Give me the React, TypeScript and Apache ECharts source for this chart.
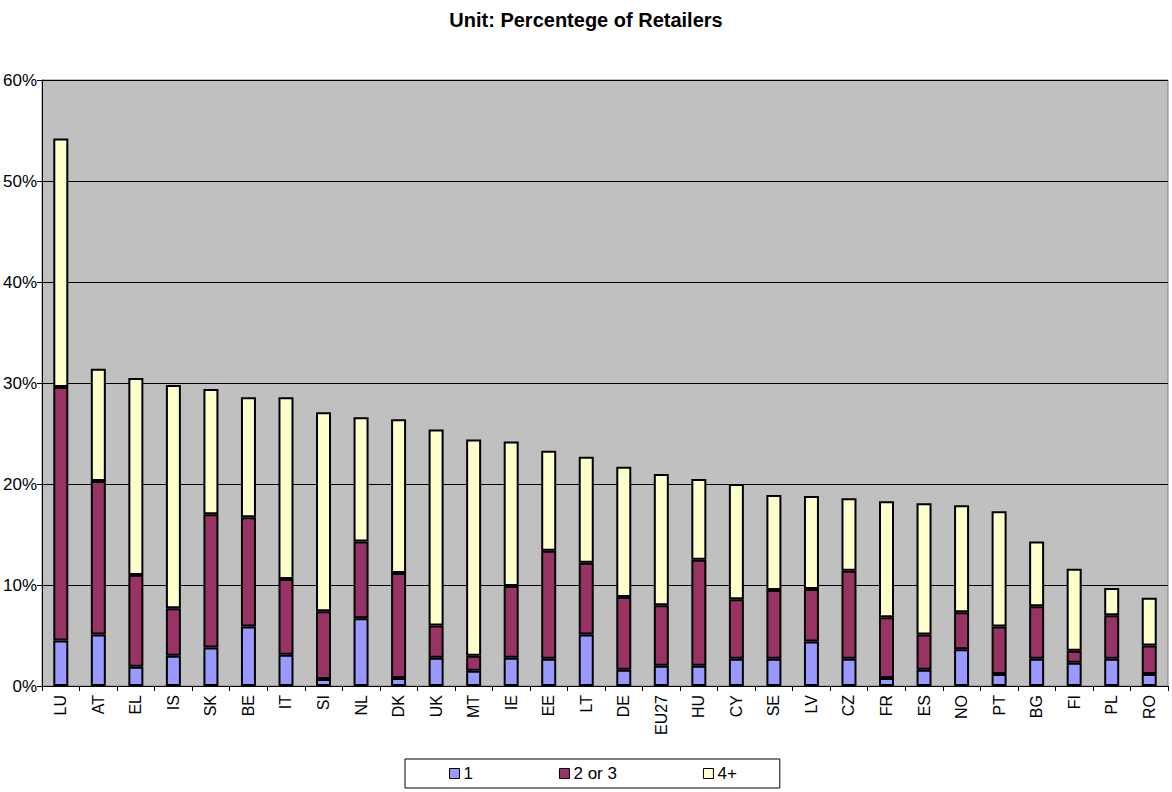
import React, { useEffect, useRef } from "react";
import * as echarts from "echarts";

const countries = ["LU","AT","EL","IS","SK","BE","IT","SI","NL","DK","UK","MT","IE","EE","LT","DE","EU27","HU","CY","SE","LV","CZ","FR","ES","NO","PT","BG","FI","PL","RO"];
// share of retailers with 1 cross-border country
const one = [4.5,5.1,1.9,3.0,3.8,5.9,3.1,0.7,6.7,0.8,2.8,1.5,2.8,2.7,5.1,1.6,2.0,2.0,2.7,2.7,4.4,2.7,0.8,1.6,3.65,1.2,2.7,2.3,2.7,1.2];
// cumulative top of "2 or 3" segment
const upToThree = [29.6,20.3,11.0,7.7,17.0,16.7,10.6,7.4,14.3,11.2,6.0,3.0,9.9,13.4,12.2,8.8,8.0,12.5,8.6,9.5,9.6,11.4,6.8,5.1,7.3,5.9,7.9,3.5,7.0,4.0];
// total height of bar
const total = [54.2,31.4,30.5,29.8,29.4,28.6,28.6,27.1,26.6,26.4,25.4,24.4,24.2,23.3,22.7,21.7,21.0,20.5,20.0,18.9,18.8,18.6,18.3,18.1,17.9,17.3,14.3,11.6,9.7,8.75];

const twoOrThree = upToThree.map((v, i) => +(v - one[i]).toFixed(2));
const fourPlus = total.map((v, i) => +(v - upToThree[i]).toFixed(2));

const seriesNames = ["1", "2 or 3", "4+"];
const seriesColors = ["#9999FF", "#993366", "#FFFFCC"];
const yTicks = { min: 0, max: 60, interval: 10 };
const titleText = "Unit: Percentege of Retailers";

export default function App() {
  const ref = useRef<HTMLDivElement>(null);
  useEffect(() => {
    if (!ref.current) return;
    const chart = echarts.init(ref.current, null, { renderer: "svg" });
    const font = "Arial, 'Liberation Sans', sans-serif";
    const dataSets = [one, twoOrThree, fourPlus];
    chart.setOption({
      animation: false,
      textStyle: { fontFamily: font },
      title: {
        text: titleText,
        left: "center",
        top: 5,
        textStyle: { fontSize: 20, fontWeight: "bold", color: "#000", fontFamily: font },
      },
      grid: {
        left: 42,
        right: 4,
        top: 80,
        bottom: 106,
        show: true,
        backgroundColor: "#C0C0C0",
        borderColor: "#808080",
        borderWidth: 1,
      },
      legend: {
        data: seriesNames,
        left: 405,
        top: 759,
        orient: "horizontal",
        padding: [6, 43, 6, 44],
        itemGap: 86,
        itemWidth: 10,
        itemHeight: 10,
        icon: "rect",
        borderColor: "#000",
        borderWidth: 1,
        backgroundColor: "#fff",
        itemStyle: { borderColor: "#000", borderWidth: 1 },
        textStyle: { fontSize: 17, color: "#000", fontFamily: font, padding: [0, 0, 0, -1] },
      },
      xAxis: {
        type: "category",
        data: countries,
        axisLine: { lineStyle: { color: "#000", width: 1 } },
        axisTick: { show: true, alignWithLabel: false, length: 5, lineStyle: { color: "#000" } },
        axisLabel: { rotate: 90, fontSize: 16, color: "#000", margin: 9, interval: 0, fontFamily: font },
        splitLine: { show: false },
      },
      yAxis: {
        type: "value",
        min: yTicks.min,
        max: yTicks.max,
        interval: yTicks.interval,
        axisLine: { show: true, lineStyle: { color: "#000", width: 1 } },
        axisTick: { show: true, length: 5, lineStyle: { color: "#000" } },
        axisLabel: { formatter: "{value}%", fontSize: 17, color: "#000", margin: 5, fontFamily: font },
        splitLine: { show: true, lineStyle: { color: "#000", width: 1 } },
      },
      series: seriesNames.map((name, k) => ({
        name,
        type: "bar",
        stack: "total",
        barWidth: 15,
        data: dataSets[k],
        itemStyle: { color: seriesColors[k], borderColor: "#000", borderWidth: 2 },
      })),
    });
    return () => chart.dispose();
  }, []);
  return (
    <div
      ref={ref}
      style={{ position: "fixed", left: 0, top: 0, width: 1172, height: 792, background: "#fff" }}
    />
  );
}
